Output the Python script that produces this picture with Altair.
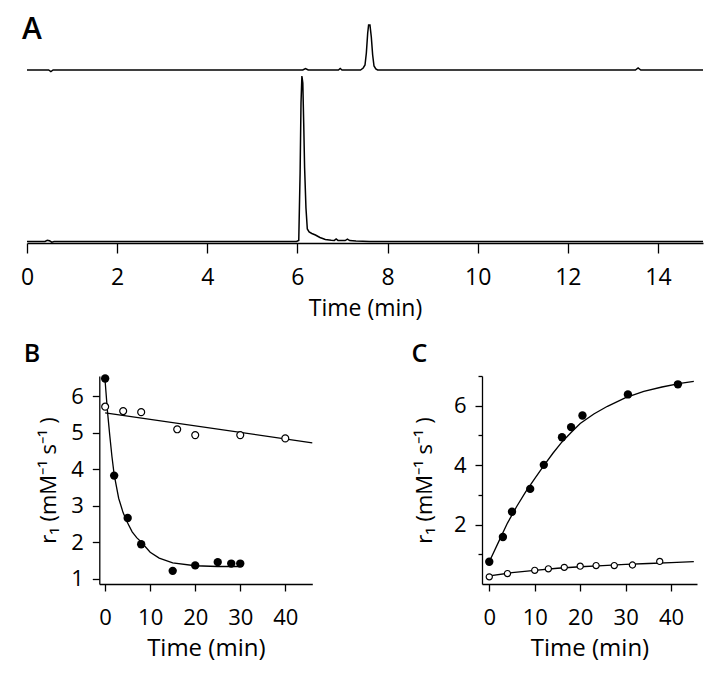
import altair as alt
import pandas as pd

FONT = "Open Sans"

# ---------------- Panel A: chromatograms (time in min, signal in arbitrary units) ----------------
a_upper_time = [0.0, 0.48, 0.53, 0.58, 6.12, 6.18, 6.24, 6.91, 6.95, 6.99, 7.40, 7.46, 7.50, 7.53,
                7.56, 7.58, 7.61, 7.64, 7.67, 7.70, 7.74, 7.78, 13.50, 13.56, 13.62, 15.0]
a_upper_signal = [173, 173, 171.5, 173, 173, 174.5, 173, 173, 174.5, 173, 173, 175, 178, 190,
                  210, 218, 218, 206, 188, 177, 174, 173, 173, 175, 173, 173]

a_lower_time = [0.0, 0.40, 0.45, 0.50, 0.55, 0.60, 5.98, 6.03, 6.06, 6.08, 6.10, 6.12, 6.14, 6.16,
                6.19, 6.22, 6.26, 6.32, 6.40, 6.50, 6.62, 6.75, 6.82, 6.86, 6.90, 7.06, 7.11, 7.16,
                7.30, 7.60, 15.0]
a_lower_signal = [1.5, 1.5, 2.6, 2.2, 0.8, 1.5, 1.5, 2.5, 70, 140, 167, 160, 120, 75,
                  35, 14, 11, 9.5, 8, 5.5, 3.5, 2.8, 2.6, 4.0, 2.6, 2.4, 3.8, 2.4,
                  2.0, 1.5, 1.5]

a_ticks = [0, 2, 4, 6, 8, 10, 12, 14]

# ---------------- Panel B ----------------
b_filled_time = [0, 2, 5, 8, 15, 20, 25, 28, 30]
b_filled_r1 = [6.48, 3.82, 2.66, 1.94, 1.21, 1.36, 1.45, 1.41, 1.41]
b_open_time = [0, 4, 8, 16, 20, 30, 40]
b_open_r1 = [5.71, 5.59, 5.56, 5.09, 4.93, 4.93, 4.84]
b_filled_fit_time = [0, 0.5, 1, 1.5, 2, 3, 4, 5, 6, 7, 8, 10, 12, 15, 20, 25, 30]
b_filled_fit_r1 = [6.40, 5.60, 4.95, 4.35, 3.85, 3.20, 2.80, 2.52, 2.28, 2.12, 2.00, 1.72, 1.56,
                   1.43, 1.35, 1.33, 1.33]
b_open_fit_time = [0, 46]
b_open_fit_r1 = [5.54, 4.72]
b_yticks = [1, 2, 3, 4, 5, 6]

# ---------------- Panel C ----------------
c_filled_time = [0, 3, 5, 9, 12, 16, 18, 20.5, 30.5, 41.5]
c_filled_r1 = [0.75, 1.58, 2.43, 3.20, 4.01, 4.94, 5.28, 5.67, 6.38, 6.72]
c_open_time = [0, 4, 10, 13, 16.5, 20, 23.5, 27.5, 31.5, 37.5]
c_open_r1 = [0.24, 0.35, 0.46, 0.51, 0.56, 0.60, 0.62, 0.62, 0.64, 0.76]
c_filled_fit_time = [0, 2, 4, 6, 8, 10, 12, 14, 16, 18, 20, 23, 26, 30, 34, 38, 42, 45]
c_filled_fit_r1 = [0.75, 1.40, 2.05, 2.60, 3.10, 3.55, 3.98, 4.40, 4.78, 5.10, 5.40, 5.72, 5.98,
                   6.27, 6.48, 6.63, 6.75, 6.82]
c_open_fit_time = [0, 5, 10, 15, 20, 25, 30, 35, 40, 45]
c_open_fit_r1 = [0.27, 0.38, 0.46, 0.53, 0.58, 0.62, 0.66, 0.69, 0.72, 0.75]
c_yticks = [1, 2, 3, 4, 5, 6, 7]

bc_xticks = [0, 10, 20, 30, 40]
Y_TITLE = "r\u2081 (mM\u207b\u00b9 s\u207b\u00b9 )"
panel_labels = ["A", "B", "C"]


def x_axis(values, label_size, title_size, tick, label_pad, title_pad):
    return alt.Axis(values=values, title="Time (min)", grid=False, domainColor="black",
                    domainWidth=1.3, tickColor="black", tickWidth=1.3, tickSize=tick,
                    labelFont=FONT, labelFontSize=label_size, labelColor="black",
                    labelPadding=label_pad, labelFlush=False, labelOverlap=False,
                    titleFont=FONT, titleFontSize=title_size, titleFontWeight="normal",
                    titleColor="black", titlePadding=title_pad)


def panel_label(text, size, px, py):
    return alt.Chart(pd.DataFrame({"label": [text]})).mark_text(
        align="left", baseline="alphabetic", font=FONT, fontSize=size, fontWeight=600,
        color="black").encode(x=alt.value(px), y=alt.value(py), text="label:N")


# ---------------- build panel A ----------------
df_a = pd.DataFrame({
    "t": a_upper_time + a_lower_time,
    "s": a_upper_signal + a_lower_signal,
    "trace": ["upper"] * len(a_upper_time) + ["lower"] * len(a_lower_time),
})
lines_a = alt.Chart(df_a).mark_line(color="black", strokeWidth=1.5).encode(
    x=alt.X("t:Q", scale=alt.Scale(domain=[0, 15], nice=False, zero=False),
            axis=x_axis(a_ticks, 23, 23, 10, 13, 8)),
    y=alt.Y("s:Q", scale=alt.Scale(domain=[0, 223], nice=False, zero=False), axis=None),
    detail="trace:N",
)
chart_a = alt.layer(lines_a, panel_label(panel_labels[0], 30, -5, 19.3)).properties(
    width=676, height=223)


# ---------------- helper for B and C ----------------
# B shares its column origin with A, so its plot is shifted right through its x range
# and its y axis is moved in by the same amount.
def kinetics_panel(fit_f_t, fit_f_r, fit_o_t, fit_o_r, pf_t, pf_r, po_t, po_r,
                   xdom, ydom, yaxis, x0, width, height, label, open_size):
    df_fit = pd.DataFrame({
        "t": fit_f_t + fit_o_t, "r": fit_f_r + fit_o_r,
        "series": ["filled"] * len(fit_f_t) + ["open"] * len(fit_o_t)})
    df_pf = pd.DataFrame({"t": pf_t, "r": pf_r})
    df_po = pd.DataFrame({"t": po_t, "r": po_r})
    xenc = alt.X("t:Q", scale=alt.Scale(domain=xdom, range=[x0, x0 + width],
                                        nice=False, zero=False),
                 axis=x_axis(bc_xticks, 22, 24, 7, 16, 8))
    yenc = alt.Y("r:Q", scale=alt.Scale(domain=ydom, nice=False, zero=False), axis=yaxis)
    lines = alt.Chart(df_fit).mark_line(color="black", strokeWidth=1.3).encode(
        x=xenc, y=yenc, detail="series:N")
    filled = alt.Chart(df_pf).mark_point(shape="circle", filled=True, color="black",
                                         size=70, opacity=1).encode(x=xenc, y=yenc)
    opened = alt.Chart(df_po).mark_point(shape="circle", filled=True, fill="white",
                                         stroke="black", strokeWidth=1.2, size=open_size,
                                         opacity=1).encode(x=xenc, y=yenc)
    return alt.layer(lines, filled, opened, label).properties(width=x0 + width, height=height)


def y_axis(values, tick_size, offset, title_x, label_expr=None):
    kw = {}
    if label_expr is not None:
        kw["labelExpr"] = label_expr
    return alt.Axis(values=values, title=Y_TITLE, grid=False, domainColor="black",
                    domainWidth=1.3, tickColor="black", tickWidth=1.3, tickSize=tick_size,
                    labelFont=FONT, labelFontSize=22, labelColor="black", labelPadding=9,
                    labelFlush=False, labelOverlap=False, offset=offset,
                    titleFont=FONT, titleFontSize=22, titleFontWeight="normal",
                    titleColor="black", titleX=title_x, titleBaseline="alphabetic", **kw)


B_X0 = 72.3
b_yaxis = y_axis(b_yticks, 7, -B_X0, -43.5)
c_yaxis = y_axis(c_yticks,
                 {"condition": {"test": "datum.value % 2 == 0", "value": 7}, "value": 4},
                 0, -51, "datum.value % 2 == 0 ? datum.label : ''")

chart_b = kinetics_panel(b_filled_fit_time, b_filled_fit_r1, b_open_fit_time, b_open_fit_r1,
                         b_filled_time, b_filled_r1, b_open_time, b_open_r1,
                         [-1.3, 46], [0.85, 6.55], b_yaxis, B_X0, 213, 208,
                         panel_label(panel_labels[1], 25, -3.2, -14), 48)

chart_c = kinetics_panel(c_filled_fit_time, c_filled_fit_r1, c_open_fit_time, c_open_fit_r1,
                         c_filled_time, c_filled_r1, c_open_time, c_open_r1,
                         [-1.6, 45.7], [0, 7], c_yaxis, 0, 215, 208,
                         panel_label(panel_labels[2], 25, -70.6, -14), 38)

chart = alt.concat(
    chart_a,
    alt.hconcat(chart_b, chart_c, spacing=96),
    columns=1,
    align="none",
    spacing=22,
).properties(
    padding={"left": 12, "top": 7, "right": 0, "bottom": 4}
).configure_view(strokeWidth=0)

chart.save("out.html", embed_options={"renderer": "svg", "actions": False})
